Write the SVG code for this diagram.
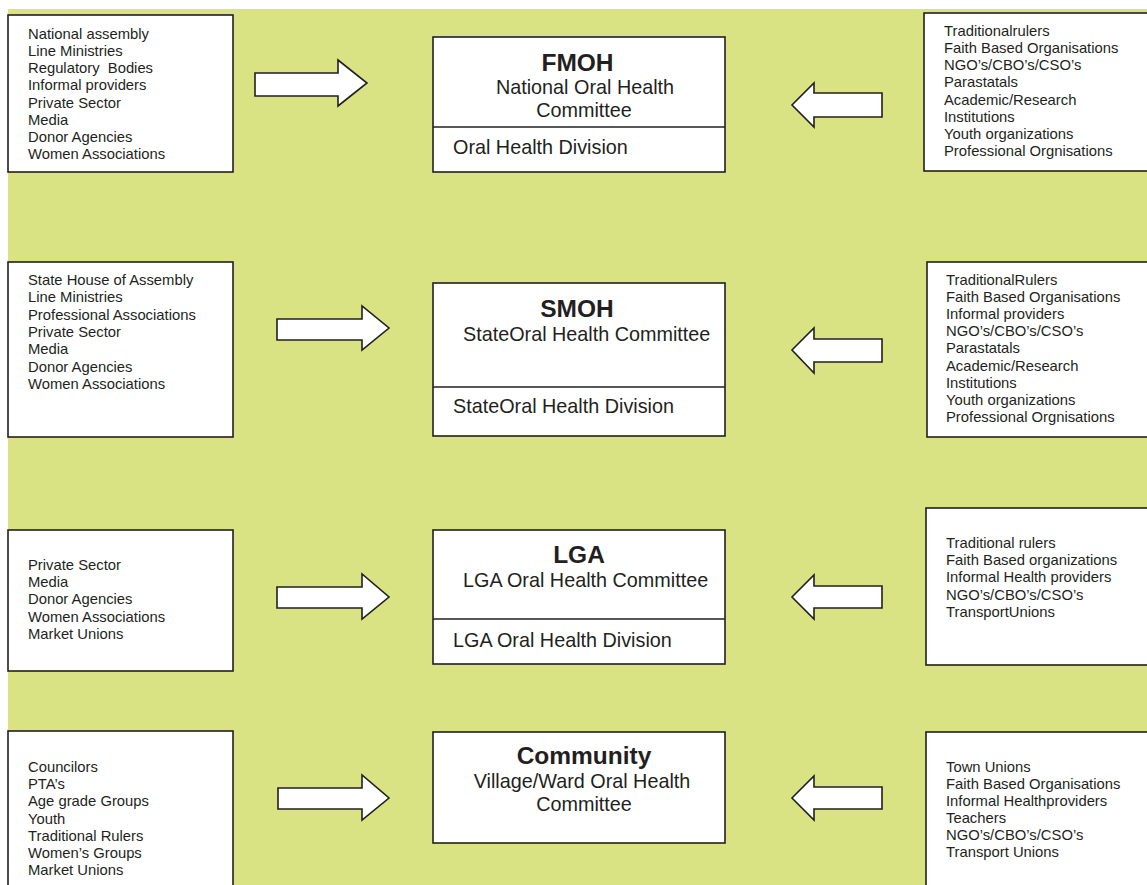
<svg xmlns="http://www.w3.org/2000/svg" width="1147" height="885" viewBox="0 0 1147 885">
<style>
.box{fill:#fff;stroke:#231f20;stroke-width:1.6}
.arr{fill:#fff;stroke:#231f20;stroke-width:1.6;stroke-linejoin:miter}
.div{stroke:#231f20;stroke-width:1.6}
.t{font-family:"Liberation Sans",Arial,sans-serif;font-size:14.8px;fill:#231f20}
.m{font-family:"Liberation Sans",Arial,sans-serif;font-size:19.8px;fill:#231f20}
.h{font-family:"Liberation Sans",Arial,sans-serif;font-size:24.5px;font-weight:bold;fill:#231f20;text-anchor:middle}
.c{text-anchor:middle}
</style>
<rect x="0" y="0" width="1147" height="885" fill="#fff"/>
<rect x="8" y="9" width="1139" height="876" fill="#d9e383"/>

<g id="left1">
<rect class="box" x="8" y="15" width="225" height="157"/>
<text class="t" x="28" y="39">National assembly</text>
<text class="t" x="28" y="56.1">Line Ministries</text>
<text class="t" x="28" y="73.3" xml:space="preserve">Regulatory  Bodies</text>
<text class="t" x="28" y="90.4">Informal providers</text>
<text class="t" x="28" y="107.6">Private Sector</text>
<text class="t" x="28" y="124.7">Media</text>
<text class="t" x="28" y="141.9">Donor Agencies</text>
<text class="t" x="28" y="159">Women Associations</text>
</g>

<g id="fmoh">
<rect class="box" x="433" y="37" width="292" height="135"/>
<line class="div" x1="433" y1="127" x2="725" y2="127"/>
<text class="h" x="577.5" y="71">FMOH</text>
<text class="m c" x="585" y="94">National Oral Health</text>
<text class="m c" x="584" y="117">Committee</text>
<text class="m" x="453" y="154">Oral Health Division</text>
</g>

<g id="right1">
<rect class="box" x="924" y="13" width="230" height="158"/>
<text class="t" x="944" y="36">Traditionalrulers</text>
<text class="t" x="944" y="53.1">Faith Based Organisations</text>
<text class="t" x="944" y="70.3">NGO’s/CBO’s/CSO’s</text>
<text class="t" x="944" y="87.4">Parastatals</text>
<text class="t" x="944" y="104.6">Academic/Research</text>
<text class="t" x="944" y="121.7">Institutions</text>
<text class="t" x="944" y="138.9">Youth organizations</text>
<text class="t" x="944" y="156">Professional Orgnisations</text>
</g>

<g id="left2">
<rect class="box" x="8" y="262" width="225" height="175"/>
<text class="t" x="28" y="285">State House of Assembly</text>
<text class="t" x="28" y="302.3">Line Ministries</text>
<text class="t" x="28" y="319.6">Professional Associations</text>
<text class="t" x="28" y="337">Private Sector</text>
<text class="t" x="28" y="354.3">Media</text>
<text class="t" x="28" y="371.6">Donor Agencies</text>
<text class="t" x="28" y="389">Women Associations</text>
</g>

<g id="smoh">
<rect class="box" x="433" y="283" width="292" height="153"/>
<line class="div" x1="433" y1="387" x2="725" y2="387"/>
<text class="h" x="577" y="317">SMOH</text>
<text class="m" x="463" y="341">StateOral Health Committee</text>
<text class="m" x="453" y="413">StateOral Health Division</text>
</g>

<g id="right2">
<rect class="box" x="927" y="262" width="230" height="175"/>
<text class="t" x="946" y="284.5">TraditionalRulers</text>
<text class="t" x="946" y="301.7">Faith Based Organisations</text>
<text class="t" x="946" y="318.9">Informal providers</text>
<text class="t" x="946" y="336.1">NGO’s/CBO’s/CSO’s</text>
<text class="t" x="946" y="353.3">Parastatals</text>
<text class="t" x="946" y="370.5">Academic/Research</text>
<text class="t" x="946" y="387.7">Institutions</text>
<text class="t" x="946" y="404.9">Youth organizations</text>
<text class="t" x="946" y="422.1">Professional Orgnisations</text>
</g>

<g id="left3">
<rect class="box" x="8" y="530" width="225" height="141"/>
<text class="t" x="28" y="570">Private Sector</text>
<text class="t" x="28" y="587.2">Media</text>
<text class="t" x="28" y="604.4">Donor Agencies</text>
<text class="t" x="28" y="621.6">Women Associations</text>
<text class="t" x="28" y="638.8">Market Unions</text>
</g>

<g id="lga">
<rect class="box" x="433" y="530" width="292" height="134"/>
<line class="div" x1="433" y1="619" x2="725" y2="619"/>
<text class="h" x="579" y="563">LGA</text>
<text class="m" x="463" y="587">LGA Oral Health Committee</text>
<text class="m" x="453" y="647">LGA Oral Health Division</text>
</g>

<g id="right3">
<rect class="box" x="926" y="508" width="230" height="157"/>
<text class="t" x="946" y="548">Traditional rulers</text>
<text class="t" x="946" y="565.2">Faith Based organizations</text>
<text class="t" x="946" y="582.4">Informal Health providers</text>
<text class="t" x="946" y="599.6">NGO’s/CBO’s/CSO’s</text>
<text class="t" x="946" y="616.8">TransportUnions</text>
</g>

<g id="left4">
<rect class="box" x="8" y="731" width="225" height="170"/>
<text class="t" x="28" y="772">Councilors</text>
<text class="t" x="28" y="789.2">PTA’s</text>
<text class="t" x="28" y="806.3">Age grade Groups</text>
<text class="t" x="28" y="823.5">Youth</text>
<text class="t" x="28" y="840.7">Traditional Rulers</text>
<text class="t" x="28" y="857.8">Women’s Groups</text>
<text class="t" x="28" y="875">Market Unions</text>
</g>

<g id="community">
<rect class="box" x="433" y="732" width="292" height="111"/>
<text class="h" x="584" y="764">Community</text>
<text class="m c" x="582" y="788">Village/Ward Oral Health</text>
<text class="m c" x="584" y="811">Committee</text>
</g>

<g id="right4">
<rect class="box" x="926" y="732" width="230" height="170"/>
<text class="t" x="946" y="772">Town Unions</text>
<text class="t" x="946" y="789">Faith Based Organisations</text>
<text class="t" x="946" y="806">Informal Healthproviders</text>
<text class="t" x="946" y="823">Teachers</text>
<text class="t" x="946" y="840">NGO’s/CBO’s/CSO’s</text>
<text class="t" x="946" y="857">Transport Unions</text>
</g>

<g id="connectors">
<polygon class="arr" points="255,73 338,73 338,60 367,83 338,106 338,96 255,96"/>
<polygon class="arr" points="882,93 814,93 814,83 792,105 814,127 814,117 882,117"/>
<polygon class="arr" points="277,319 362,319 362,306 389,328 362,350 362,340 277,340"/>
<polygon class="arr" points="882,339 814,339 814,328 792,350 814,373 814,362 882,362"/>
<polygon class="arr" points="277,587 362,587 362,574 389,597 362,619 362,608 277,608"/>
<polygon class="arr" points="882,586 814,586 814,575 792,597 814,619 814,608 882,608"/>
<polygon class="arr" points="278,788 362,788 362,775 389,798 362,820 362,809 278,809"/>
<polygon class="arr" points="882,787 814,787 814,776 792,798 814,820 814,809 882,809"/>
</g>
</svg>
